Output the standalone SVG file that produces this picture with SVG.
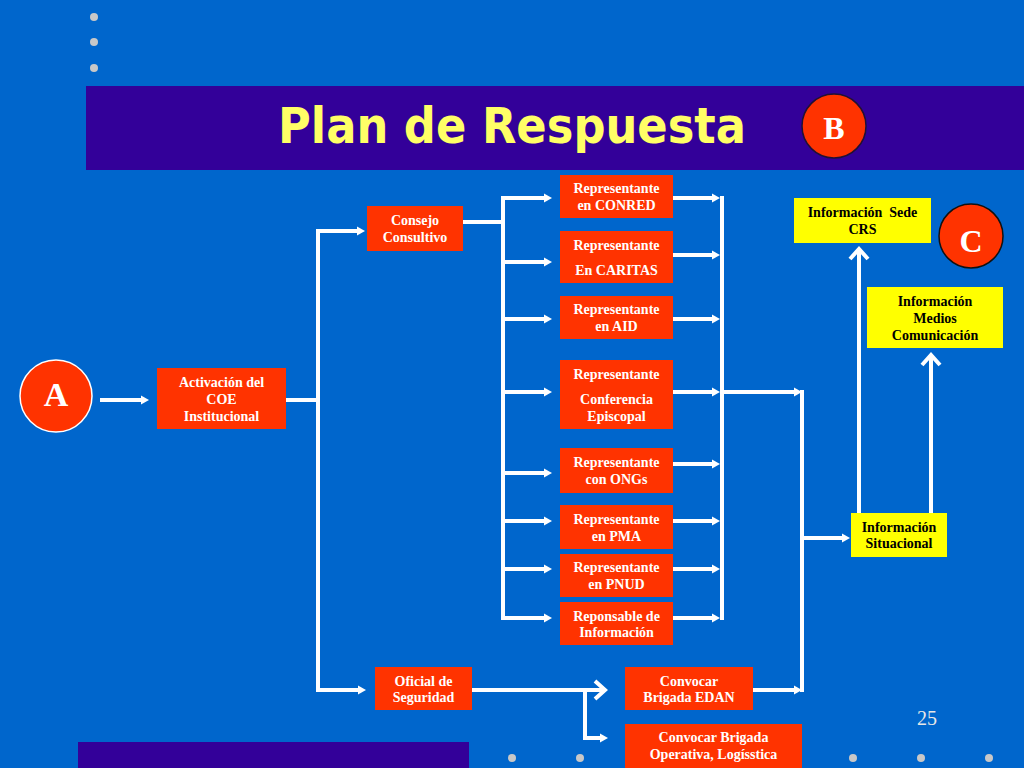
<svg xmlns="http://www.w3.org/2000/svg" width="1024" height="768" viewBox="0 0 1024 768">
<defs>
<style>
.bg{fill:#0066CC}
.band{fill:#330099}
.dot{fill:#C8C8C8}
.rbox{fill:#FF3300}
.ybox{fill:#FFFF00}
.wt{font-family:"Liberation Serif","Times New Roman",serif;font-weight:bold;font-size:14px;fill:#FFFFFF;text-anchor:middle}
.bt{font-family:"Liberation Serif","Times New Roman",serif;font-weight:bold;font-size:14px;fill:#000000;text-anchor:middle}
.ct{font-family:"Liberation Serif","Times New Roman",serif;font-weight:bold;fill:#FFFFFF;text-anchor:middle}
.ln{fill:none;stroke:#FFFFFF;stroke-width:4;stroke-linejoin:miter}
</style>
<marker id="tri" markerUnits="userSpaceOnUse" markerWidth="12" markerHeight="12" viewBox="0 -6 10 12" refX="0" refY="0" orient="auto">
<path d="M0,-4.5 L8,0 L0,4.5 Z" fill="#FFFFFF"/>
</marker>
<marker id="chev" markerUnits="userSpaceOnUse" markerWidth="24" markerHeight="26" viewBox="-14 -13 18 26" refX="0" refY="0" orient="auto">
<path d="M-10,-9 L0,0 L-10,9" fill="none" stroke="#FFFFFF" stroke-width="4"/>
</marker>
</defs>
<rect class="bg" x="0" y="0" width="1024" height="768"/>
<rect class="band" x="86" y="86" width="938" height="84"/>
<rect class="band" x="78" y="742" width="391" height="26"/>
<g id="dots">
<circle class="dot" cx="94" cy="17" r="4"/>
<circle class="dot" cx="94" cy="42" r="4"/>
<circle class="dot" cx="94" cy="68" r="4"/>
<circle class="dot" cx="512" cy="758" r="4"/>
<circle class="dot" cx="580" cy="758" r="4"/>
<circle class="dot" cx="853" cy="758" r="4"/>
<circle class="dot" cx="921" cy="758" r="4"/>
<circle class="dot" cx="989" cy="758" r="4"/>
</g>
<text x="278" y="143" font-family="'DejaVu Sans',Verdana,sans-serif" font-weight="bold" font-size="50" fill="#FFFF66" textLength="468" lengthAdjust="spacingAndGlyphs">Plan de Respuesta</text>
<text x="927" y="725" font-family="'Liberation Serif','Times New Roman',serif" font-size="20" fill="#E8E8E8" text-anchor="middle">25</text>

<g id="connectors">
<path class="ln" d="M100,400 H141" marker-end="url(#tri)"/>
<path class="ln" d="M286,400 H318"/>
<path class="ln" d="M318,402 V231 H357" marker-end="url(#tri)"/>
<path class="ln" d="M318,398 V690 H358" marker-end="url(#tri)"/>
<path class="ln" d="M463,222 H503"/>
<path class="ln" d="M503,196 V620"/>
<path class="ln" d="M503,198 H544" marker-end="url(#tri)"/>
<path class="ln" d="M503,262 H544" marker-end="url(#tri)"/>
<path class="ln" d="M503,319 H544" marker-end="url(#tri)"/>
<path class="ln" d="M503,392 H544" marker-end="url(#tri)"/>
<path class="ln" d="M503,473 H544" marker-end="url(#tri)"/>
<path class="ln" d="M503,521 H544" marker-end="url(#tri)"/>
<path class="ln" d="M503,569 H544" marker-end="url(#tri)"/>
<path class="ln" d="M501,618 H544" marker-end="url(#tri)"/>
<path class="ln" d="M722,196 V620"/>
<path class="ln" d="M673,198 H712" marker-end="url(#tri)"/>
<path class="ln" d="M673,255 H712" marker-end="url(#tri)"/>
<path class="ln" d="M673,319 H712" marker-end="url(#tri)"/>
<path class="ln" d="M673,392 H712" marker-end="url(#tri)"/>
<path class="ln" d="M673,464 H712" marker-end="url(#tri)"/>
<path class="ln" d="M673,521 H712" marker-end="url(#tri)"/>
<path class="ln" d="M673,569 H712" marker-end="url(#tri)"/>
<path class="ln" d="M673,618 H712" marker-end="url(#tri)"/>
<path class="ln" d="M722,392 H794" marker-end="url(#tri)"/>
<path class="ln" d="M802,390 V692"/>
<path class="ln" d="M753,690 H794" marker-end="url(#tri)"/>
<path class="ln" d="M802,538 H842" marker-end="url(#tri)"/>
<path class="ln" d="M859,513 V249" marker-end="url(#chev)"/>
<path class="ln" d="M931,513 V355" marker-end="url(#chev)"/>
<path class="ln" d="M472,690 H605" marker-end="url(#chev)"/>
<path class="ln" d="M585,690 V738 H600" marker-end="url(#tri)"/>
</g>

<g id="nodeB">
<circle cx="834" cy="126" r="32" fill="#FF3300" stroke="#221133" stroke-width="1.5"/>
<text class="ct" x="834" y="139" font-size="32">B</text>
</g>
<g id="nodeC">
<circle cx="971" cy="236" r="32" fill="#FF3300" stroke="#111111" stroke-width="1.5"/>
<text class="ct" x="971" y="252" font-size="32">C</text>
</g>
<g id="nodeA">
<circle cx="56" cy="396" r="36" fill="#FF3300" stroke="#FFFFFF" stroke-width="1.5"/>
<text class="ct" x="56" y="406" font-size="34">A</text>
</g>

<g id="activacion">
<rect class="rbox" x="157" y="368" width="129" height="61"/>
<text class="wt" x="221.5" y="387">Activación del</text>
<text class="wt" x="221.5" y="404">COE</text>
<text class="wt" x="221.5" y="421">Institucional</text>
</g>
<g id="consejo">
<rect class="rbox" x="367" y="206" width="96" height="45"/>
<text class="wt" x="415" y="225">Consejo</text>
<text class="wt" x="415" y="242">Consultivo</text>
</g>
<g id="conred">
<rect class="rbox" x="560" y="175" width="113" height="43"/>
<text class="wt" x="616.5" y="193">Representante</text>
<text class="wt" x="616.5" y="210">en CONRED</text>
</g>
<g id="caritas">
<rect class="rbox" x="560" y="231" width="113" height="52"/>
<text class="wt" x="616.5" y="250">Representante</text>
<text class="wt" x="616.5" y="275">En CARITAS</text>
</g>
<g id="aid">
<rect class="rbox" x="560" y="296" width="113" height="43"/>
<text class="wt" x="616.5" y="314">Representante</text>
<text class="wt" x="616.5" y="331">en AID</text>
</g>
<g id="conferencia">
<rect class="rbox" x="560" y="360" width="113" height="69"/>
<text class="wt" x="616.5" y="379">Representante</text>
<text class="wt" x="616.5" y="404">Conferencia</text>
<text class="wt" x="616.5" y="421">Episcopal</text>
</g>
<g id="ongs">
<rect class="rbox" x="560" y="448" width="113" height="45"/>
<text class="wt" x="616.5" y="467">Representante</text>
<text class="wt" x="616.5" y="484">con ONGs</text>
</g>
<g id="pma">
<rect class="rbox" x="560" y="505" width="113" height="44"/>
<text class="wt" x="616.5" y="524">Representante</text>
<text class="wt" x="616.5" y="541">en PMA</text>
</g>
<g id="pnud">
<rect class="rbox" x="560" y="554" width="113" height="43"/>
<text class="wt" x="616.5" y="572">Representante</text>
<text class="wt" x="616.5" y="589">en PNUD</text>
</g>
<g id="responsable">
<rect class="rbox" x="560" y="602" width="113" height="43"/>
<text class="wt" x="616.5" y="621">Reponsable de</text>
<text class="wt" x="616.5" y="637">Información</text>
</g>
<g id="oficial">
<rect class="rbox" x="375" y="667" width="97" height="43"/>
<text class="wt" x="423.5" y="686">Oficial de</text>
<text class="wt" x="423.5" y="702">Seguridad</text>
</g>
<g id="edan">
<rect class="rbox" x="625" y="667" width="128" height="43"/>
<text class="wt" x="689" y="686">Convocar</text>
<text class="wt" x="689" y="702">Brigada EDAN</text>
</g>
<g id="operativa">
<rect class="rbox" x="625" y="724" width="177" height="44"/>
<text class="wt" x="713.5" y="742">Convocar Brigada</text>
<text class="wt" x="713.5" y="759">Operativa, Logísstica</text>
</g>
<g id="situacional">
<rect class="ybox" x="851" y="513" width="96" height="44"/>
<text class="bt" x="899" y="532">Información</text>
<text class="bt" x="899" y="548">Situacional</text>
</g>
<g id="sede">
<rect class="ybox" x="794" y="198" width="137" height="45"/>
<text class="bt" x="862.5" y="217" xml:space="preserve">Información  Sede</text>
<text class="bt" x="862.5" y="234">CRS</text>
</g>
<g id="medios">
<rect class="ybox" x="867" y="287" width="136" height="61"/>
<text class="bt" x="935" y="306">Información</text>
<text class="bt" x="935" y="323">Medios</text>
<text class="bt" x="935" y="340">Comunicación</text>
</g>
</svg>
